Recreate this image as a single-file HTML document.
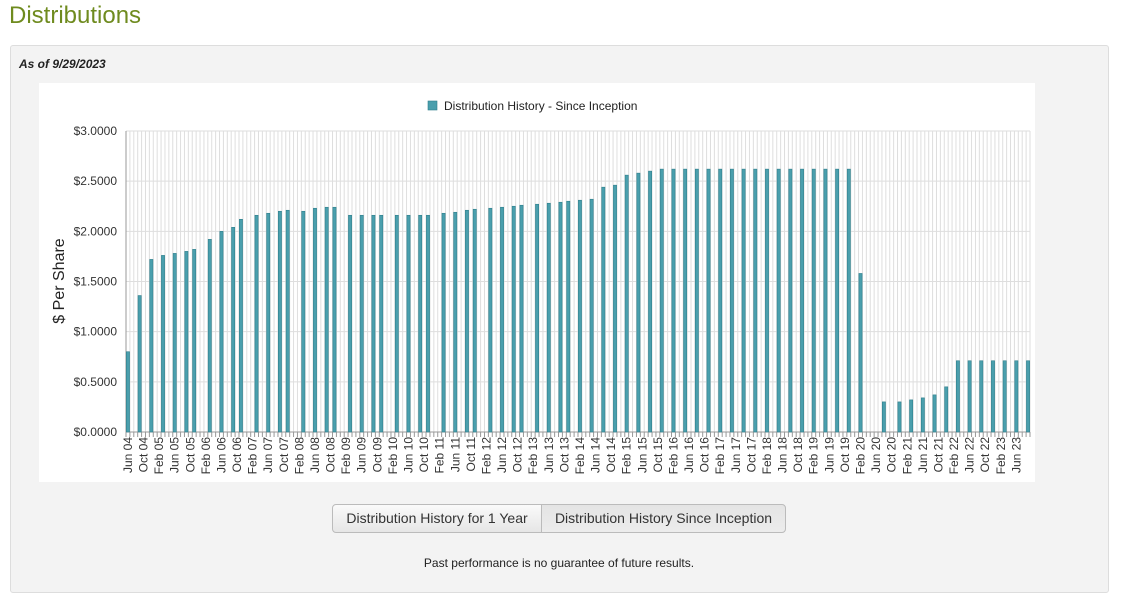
<!DOCTYPE html>
<html><head><meta charset="utf-8"><style>
body{margin:0;width:1122px;height:616px;background:#fff;font-family:"Liberation Sans",Arial,sans-serif;position:relative;overflow:hidden}
.title{position:absolute;left:9px;top:2px;font-size:24px;color:#6f8b1f}
.panel{position:absolute;left:10px;top:45px;width:1097px;height:546px;background:#f3f3f3;border:1px solid #ddd;border-radius:3px}
.asof{position:absolute;left:19px;top:57px;font-size:12px;font-weight:bold;font-style:italic;color:#222}
.chartbg{position:absolute;left:39px;top:83px;width:996px;height:399px;background:#fff}
.btn{position:absolute;top:504px;height:27px;border:1px solid #bbb;font-size:14px;color:#333;line-height:27px;text-align:center;background:linear-gradient(#fafafa,#e6e6e6)}
.foot{position:absolute;left:0;width:1118px;top:556px;text-align:center;font-size:12px;color:#222}
</style></head><body>
<div class="title">Distributions</div>
<div class="panel"></div>
<div class="asof">As of 9/29/2023</div>
<div class="chartbg"></div>
<svg id="chart" width="1122" height="616" style="position:absolute;left:0;top:0"></svg>
<div class="btn" style="left:332px;width:208px;border-radius:4px 0 0 4px">Distribution History for 1 Year</div>
<div class="btn" style="left:541px;width:243px;border-radius:0 4px 4px 0;background:linear-gradient(#e4e4e4,#ececec)">Distribution History Since Inception</div>
<div class="foot">Past performance is no guarantee of future results.</div>
<script>
const monthNames=["Jan","Feb","Mar","Apr","May","Jun","Jul","Aug","Sep","Oct","Nov","Dec"];
const startYear=2004, startMonth=5, monthCount=232;
const barMonthIdx=[0,3,6,9,12,15,17,21,24,27,29,33,36,39,41,45,48,51,53,57,60,63,65,69,72,75,77,81,84,87,89,93,96,99,101,105,108,111,113,116,119,122,125,128,131,134,137,140,143,146,149,152,155,158,161,164,167,170,173,176,179,182,185,188,194,198,201,204,207,210,213,216,219,222,225,228,231];
const barValues=[0.80,1.36,1.72,1.76,1.78,1.80,1.82,1.92,2.00,2.04,2.12,2.16,2.18,2.20,2.21,2.20,2.23,2.24,2.24,2.16,2.16,2.16,2.16,2.16,2.16,2.16,2.16,2.18,2.19,2.21,2.22,2.23,2.24,2.25,2.26,2.27,2.28,2.29,2.30,2.31,2.32,2.44,2.46,2.56,2.58,2.60,2.62,2.62,2.62,2.62,2.62,2.62,2.62,2.62,2.62,2.62,2.62,2.62,2.62,2.62,2.62,2.62,2.62,1.58,0.30,0.30,0.32,0.34,0.37,0.45,0.71,0.71,0.71,0.71,0.71,0.71,0.71];
const yTicks=[0,0.5,1,1.5,2,2.5,3];
const X0=126,X1=1030,Y0=432,Y1=131,yMax=3;
const cw=(X1-X0)/monthCount;
const xPos=i=>X0+i*cw;
const yPos=v=>Y0-(v/yMax)*(Y0-Y1);
const svg=document.getElementById('chart');
const NS='http://www.w3.org/2000/svg';
function mk(t,a){const e=document.createElementNS(NS,t);for(const k in a)e.setAttribute(k,a[k]);svg.appendChild(e);return e;}
for(let i=0;i<=monthCount;i++){
  const g=mk('line',{x1:xPos(i),x2:xPos(i),y1:Y1,y2:Y0,stroke:'#dedede','stroke-width':1});
  
  
  const t=mk('line',{x1:xPos(i),x2:xPos(i),y1:Y0,y2:Y0+5,stroke:'#999','stroke-width':1});
  
  
}
yTicks.forEach(v=>{
  const g=mk('line',{x1:X0,x2:X1,y1:yPos(v),y2:yPos(v),stroke:'#dedede','stroke-width':1});
  
  
  const t=mk('text',{x:117,y:yPos(v)+4,'text-anchor':'end','font-size':12,fill:'#333'});
  t.textContent='$'+v.toFixed(4);
  
  
});
const ax=mk('line',{x1:X0,x2:X0,y1:Y1,y2:Y0,stroke:'#999'});


const bx=mk('line',{x1:X0,x2:X1,y1:Y0,y2:Y0,stroke:'#999'});


barMonthIdx.forEach((m,k)=>{
  const cx=xPos(m)+cw/2;
  const r=mk('rect',{x:cx-1.6,y:yPos(barValues[k]),width:3.2,height:Y0-yPos(barValues[k]),fill:'#4a9fad',stroke:'#2e7f8c','stroke-width':0.6});
  
  
});
for(let i=0;i<monthCount;i+=4){
  const mi=(startMonth+i)%12, yr=startYear+Math.floor((startMonth+i)/12);
  const cx=xPos(i)+cw/2+4;
  const t=mk('text',{x:cx,y:437,'text-anchor':'end','font-size':12,fill:'#333',transform:`rotate(-90 ${cx} 437)`});
  t.textContent=monthNames[mi]+' '+String(yr%100).padStart(2,'0');
  
  
}
const yt=mk('text',{x:0,y:0,'text-anchor':'middle','font-size':16,fill:'#222',transform:'translate(64 281) rotate(-90)'});
yt.textContent='$ Per Share';


const lr=mk('rect',{x:428,y:101,width:9,height:9,fill:'#4a9fad',stroke:'#2e7f8c','stroke-width':0.6});


const lt=mk('text',{x:444,y:110,'font-size':12,fill:'#222'});
lt.textContent='Distribution History - Since Inception';


</script>
</body></html>
